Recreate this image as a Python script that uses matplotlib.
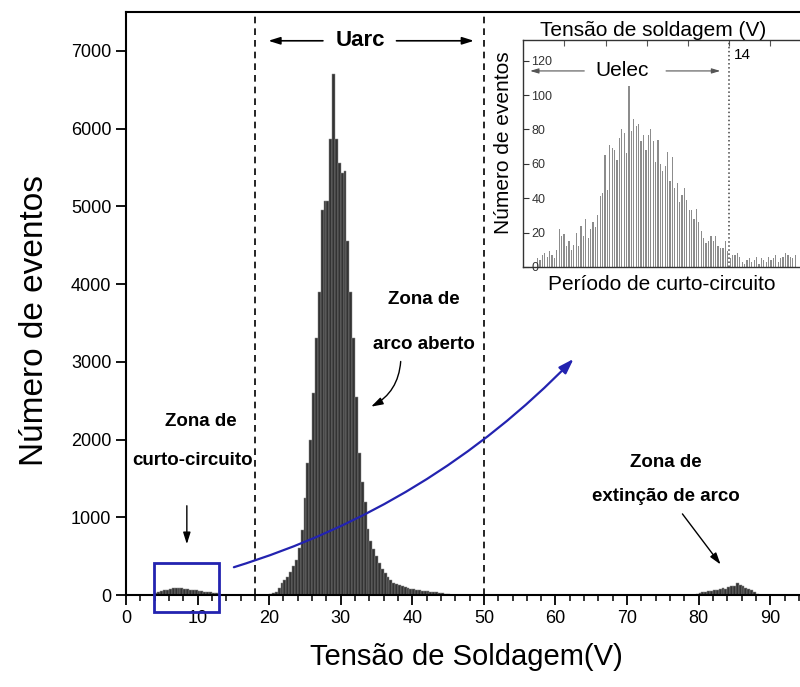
import numpy as np
import matplotlib
matplotlib.use("Agg")
import matplotlib.pyplot as plt
from matplotlib.patches import Rectangle

plt.rcParams['font.family'] = ['Liberation Sans', 'DejaVu Sans']

# main histogram (bin width 0.4 V)
sc_start = 4.2
sc_counts = [20, 35, 50, 60, 70, 80, 85, 95, 90, 85, 80, 75, 70, 65, 60, 55,
             50, 45, 40, 35, 30, 20, 10]

arc_start = 20.2
arc_counts = [10, 20, 40, 90, 150, 190, 230, 300, 370, 450, 600, 840, 1250, 1700,
              2000, 2600, 3300, 3900, 4950, 5070, 5075, 5870, 6700, 5870, 5560,
              5430, 5460, 4560, 3900, 3300, 2550, 1830, 1450, 1200, 850, 700, 590,
              500, 410, 340, 285, 230, 190, 160, 145, 125, 110, 100, 90, 80, 72,
              66, 60, 55, 50, 46, 42, 38, 34, 28, 22, 16, 10]

ext_start = 79.8
ext_counts = [10, 25, 35, 40, 50, 55, 60, 70, 75, 85, 80, 100, 110, 120, 150, 130,
              115, 95, 80, 60, 35, 15]

bin_w = 0.4

# inset histogram (short-circuit period)
inset_first, inset_last = 4.7, 17.2
inset_counts = [5, 4, 7, 8, 6, 9, 7, 5, 10, 22, 18, 19, 12, 15, 10, 13, 20, 12, 24,
                18, 28, 17, 22, 26, 23, 30, 41, 43, 65, 45, 71, 69, 68, 62, 75, 80,
                78, 66, 105, 79, 86, 82, 83, 73, 77, 68, 77, 80, 73, 61, 74, 60, 56,
                59, 67, 50, 64, 46, 49, 38, 42, 46, 39, 33, 33, 28, 34, 26, 21, 17,
                14, 15, 18, 15, 18, 12, 11, 11, 15, 9,
                5, 7, 7, 8, 6, 3, 2, 4, 5, 3, 4, 6, 2, 5, 4, 3, 6, 4, 5, 7, 3, 5, 6,
                8, 7, 6, 5, 7]

fig = plt.figure(figsize=(8, 6.87), dpi=100)
ax = fig.add_axes([0.1575, 0.1339, 0.850, 0.8486])

for start, counts in [(sc_start, sc_counts), (arc_start, arc_counts), (ext_start, ext_counts)]:
    xs = start + bin_w * np.arange(len(counts))
    ax.bar(xs, counts, width=bin_w, color='#333333', edgecolor='#8a8a8a', linewidth=0.35)

ax.set_xlim(0, 95)
ax.set_ylim(0, 7500)
ax.set_xticks(np.arange(0, 95, 10))
ax.set_xticks(np.arange(0, 95, 2), minor=True)
ax.set_yticks(np.arange(0, 7001, 1000))
ax.tick_params(axis='both', which='major', direction='out', length=7, width=1.3, labelsize=13)
ax.tick_params(axis='x', which='minor', direction='out', length=4, width=1.1)
for s in ['left', 'top', 'bottom']:
    ax.spines[s].set_linewidth(1.5)
ax.spines['right'].set_visible(False)

fig.text(466 / 800, 1 - 657 / 687, 'Tensão de Soldagem(V)', fontsize=21,
         ha='center', va='center')
fig.text(35 / 800, 1 - 320 / 687, 'Número de eventos', fontsize=24, rotation=90,
         ha='center', va='center')

# dashed limits
for xv in [18, 50]:
    ax.axvline(xv, color='black', linestyle=(0, (4, 3)), linewidth=1.2)

# Uarc
ax.text(32.7, 7130, 'Uarc', fontsize=16, fontweight='bold', ha='center', va='center')
head = dict(arrowstyle='-|>,head_length=0.7,head_width=0.22', color='black', lw=1.2)
ax.annotate('', xy=(19.5, 7130), xytext=(27.9, 7130), arrowprops=head)
ax.annotate('', xy=(49.0, 7130), xytext=(37.4, 7130), arrowprops=head)

# zone labels
bold = dict(fontsize=13.5, fontweight='bold', ha='center', va='center')
ax.text(41.6, 3797, 'Zona de', **bold)
ax.text(41.6, 3218, 'arco aberto', **bold)
ax.text(10.4, 2230, 'Zona de', **bold)
ax.text(9.3, 1730, 'curto-circuito', **bold)
ax.text(75.4, 1699, 'Zona de', **bold)
ax.text(75.4, 1261, 'extinção de arco', **bold)

thin = dict(arrowstyle='-|>,head_length=0.7,head_width=0.22', color='black', lw=1.0)
ax.annotate('', xy=(33.9, 2407), xytext=(38.4, 3040),
            arrowprops=dict(connectionstyle='arc3,rad=-0.3', **thin))
ax.annotate('', xy=(8.5, 618), xytext=(8.5, 1184), arrowprops=thin)
ax.annotate('', xy=(83.3, 364), xytext=(77.5, 1072), arrowprops=thin)

# blue box + curved arrow
ax.add_patch(Rectangle((3.9, -220), 9.1, 630, fill=False, edgecolor='#2323b0',
                       linewidth=2, clip_on=False, zorder=5))
ax.annotate('', xy=(62.8, 3063), xytext=(14.7, 347),
            arrowprops=dict(arrowstyle='-|>,head_length=0.9,head_width=0.3',
                            color='#2323b0', lw=1.6, connectionstyle='arc3,rad=0.13'))

# inset
ax_in = fig.add_axes([0.654, 0.6114, 0.3605, 0.3304])
ax_in.set_facecolor('white')
xi = np.linspace(inset_first, inset_last, len(inset_counts))
ax_in.bar(xi, inset_counts, width=0.06, color='#8c8c8c', linewidth=0)
ax_in.set_xlim(4, 18)
ax_in.set_ylim(0, 132)
ax_in.axvline(14, color='#444444', linestyle=':', linewidth=1.1)
for s in ['left', 'top', 'bottom']:
    ax_in.spines[s].set_linewidth(1.0)
    ax_in.spines[s].set_color('#333333')
ax_in.spines['right'].set_visible(False)
ax_in.set_xticks(np.arange(6, 17, 2))
ax_in.tick_params(axis='x', bottom=False, top=True, labelbottom=False, labeltop=False,
                  direction='in', length=4, color='#555555')
ax_in.set_yticks(np.arange(0, 121, 20))
ax_in.tick_params(axis='y', direction='in', length=4, labelsize=9, pad=-6, colors='#333333')
for lab in ax_in.get_yticklabels():
    lab.set_horizontalalignment('left')

ax_in.text(10.3, 137.5, 'Tensão de soldagem (V)', fontsize=15, ha='center', va='center',
           clip_on=False)
ax_in.text(10.75, -10, 'Período de curto-circuito', fontsize=15, ha='center', va='center',
           clip_on=False)
ax_in.text(-0.069, 0.546, 'Número de eventos', fontsize=15, rotation=90, ha='center',
           va='center', transform=ax_in.transAxes)
ax_in.text(8.8, 114, 'Uelec', fontsize=15, ha='center', va='center')
ax_in.text(14.65, 123, '14', fontsize=11, ha='center', va='center')
gray = dict(arrowstyle='-|>,head_length=0.5,head_width=0.15', color='#555555', lw=0.8)
ax_in.annotate('', xy=(4.2, 114), xytext=(7.1, 114), arrowprops=gray)
ax_in.annotate('', xy=(13.7, 114), xytext=(10.8, 114), arrowprops=gray)

fig.savefig('out.png', dpi=100)
